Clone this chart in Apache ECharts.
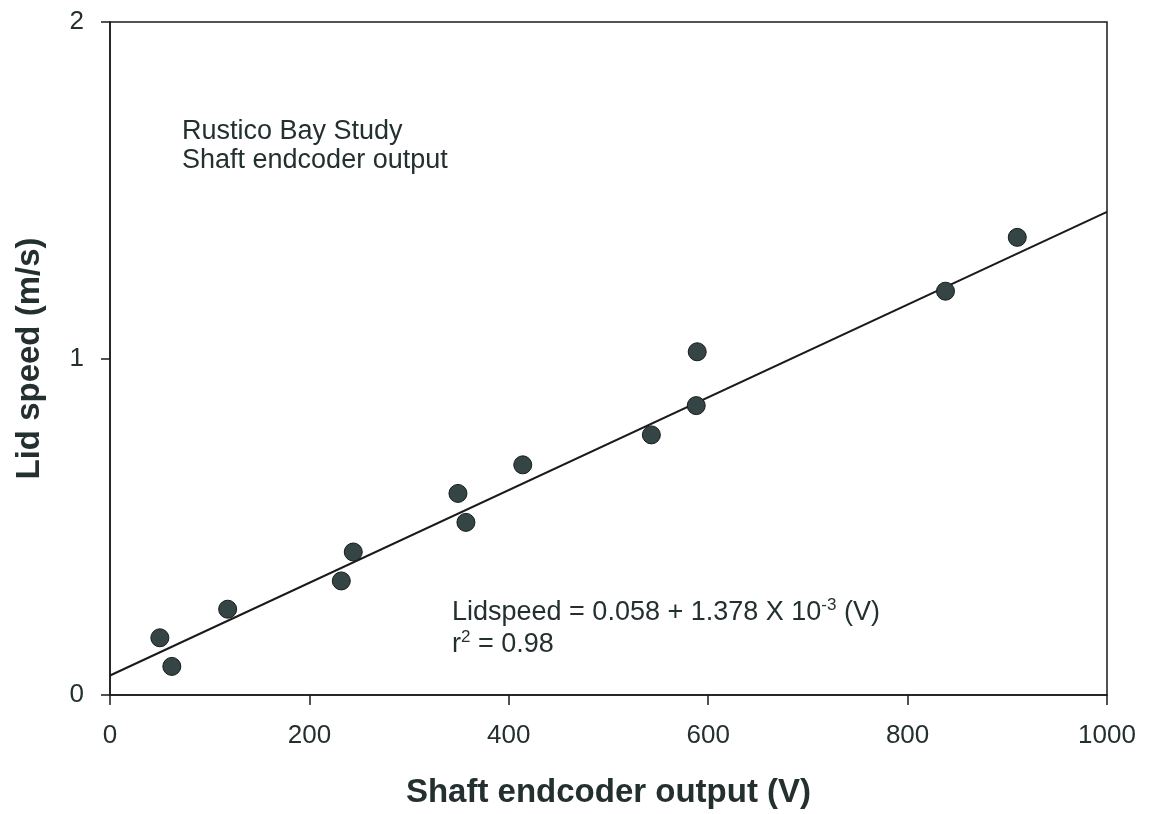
<!DOCTYPE html>
<html>
<head>
<meta charset="utf-8">
<script src="https://cdn.jsdelivr.net/npm/echarts@6/dist/echarts.min.js"></script>
<style>
  html, body { margin: 0; padding: 0; background: #fff; }
  #chart { width: 1149px; height: 814px; }
</style>
</head>
<body>
<div id="chart"></div>
<script>
// Shaft encoder output (V) against measured lid speed (m/s)
const encoderOutput = [50, 62, 118, 232, 244, 349, 357, 414, 543, 588, 589, 838, 910];
const lidSpeed      = [0.17, 0.085, 0.255, 0.339, 0.425, 0.599, 0.513, 0.684, 0.773, 0.86, 1.02, 1.2, 1.36];

// Least-squares fit reported on the chart
const fitIntercept = 0.058;
const fitSlope = 1.378e-3;
const fitRange = [0, 1000];

const xTicks = [0, 200, 400, 600, 800, 1000];
const yTicks = [0, 1, 2];

const ink = '#243030';
const font = 'Liberation Sans, Arial, sans-serif';

const points = encoderOutput.map((v, i) => [v, lidSpeed[i]]);
const fitLine = fitRange.map(v => [v, fitIntercept + fitSlope * v]);

const chart = echarts.init(document.getElementById('chart'), null, { renderer: 'canvas' });

chart.setOption({
  backgroundColor: '#ffffff',
  animation: false,
  grid: { left: 110, right: 42, top: 22, bottom: 116, show: true, borderColor: '#1a1a1a', borderWidth: 1.5 },
  xAxis: {
    type: 'value',
    min: xTicks[0], max: xTicks[xTicks.length - 1], interval: 200,
    name: 'Shaft endcoder output (V)',
    nameLocation: 'middle', nameGap: 81,
    nameTextStyle: { fontFamily: font, fontSize: 33, fontWeight: 'bold', color: ink },
    axisLine: { show: true, lineStyle: { color: '#1a1a1a', width: 1.5 } },
    axisTick: { show: true, inside: false, length: 10, lineStyle: { color: '#1a1a1a', width: 1.5 } },
    axisLabel: { fontFamily: font, fontSize: 26, color: ink, margin: 28, formatter: v => String(v) },
    splitLine: { show: false }
  },
  yAxis: {
    type: 'value',
    min: yTicks[0], max: yTicks[yTicks.length - 1], interval: 1,
    name: 'Lid speed (m/s)',
    nameLocation: 'middle', nameGap: 64,
    nameTextStyle: { fontFamily: font, fontSize: 33, fontWeight: 'bold', color: ink },
    axisLine: { show: true, lineStyle: { color: '#1a1a1a', width: 1.5 } },
    axisTick: { show: true, inside: false, length: 9, lineStyle: { color: '#1a1a1a', width: 1.5 } },
    axisLabel: { fontFamily: font, fontSize: 26, color: ink, margin: 26, formatter: v => String(v) },
    splitLine: { show: false }
  },
  series: [
    {
      name: 'Fit',
      type: 'line',
      data: fitLine,
      symbol: 'none',
      lineStyle: { color: '#1a1a1a', width: 2 },
      z: 2
    },
    {
      name: 'Observed',
      type: 'scatter',
      data: points,
      symbol: 'circle',
      symbolSize: 18,
      itemStyle: { color: '#354444', borderColor: '#151c1c', borderWidth: 1, opacity: 1 },
      z: 3
    }
  ],
  graphic: [
    {
      type: 'text', left: 182, top: 117,
      style: {
        text: 'Rustico Bay Study\nShaft endcoder output',
        font: '27px ' + font, fill: ink, lineHeight: 29
      }
    },
    {
      type: 'text', left: 452, top: 597,
      style: {
        text: '{n|Lidspeed = 0.058 + 1.378 X 10}{s|-3}{n| (V)}\n{n|r}{s|2}{n| = 0.98}',
        fill: ink,
        rich: {
          n: { fontFamily: font, fontSize: 27, fill: ink, lineHeight: 32 },
          s: { fontFamily: font, fontSize: 17, fill: ink, verticalAlign: 'top', lineHeight: 32, padding: [0, 0, 14, 0] }
        }
      }
    }
  ]
});
</script>
</body>
</html>
